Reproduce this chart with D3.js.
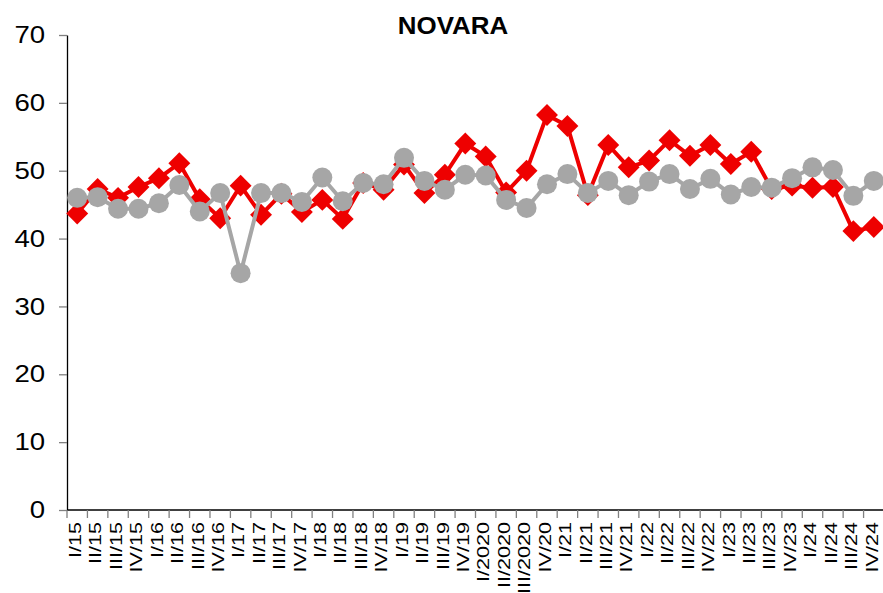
<!DOCTYPE html>
<html lang="it">
<head>
    <title>NOVARA</title>
    <meta charset="utf-8">
    <!-- D3 -->
    <script src="https://d3js.org/d3.v7.min.js"></script>
<style>
body { margin: 0; background: #fff; }
text { font-family: "Liberation Sans", Arial, sans-serif; }
</style>
</head>
<body>
<div id="novara_graph"></div>
<script>
// quarters on the x axis
var quarters = ["I/15", "II/15", "III/15", "IV/15", "I/16", "II/16", "III/16", "IV/16",
  "I/17", "II/17", "III/17", "IV/17", "I/18", "II/18", "III/18", "IV/18",
  "I/19", "II/19", "III/19", "IV/19", "I/2020", "II/2020", "III/2020", "IV/20",
  "I/21", "II/21", "III/21", "IV/21", "I/22", "II/22", "III/22", "IV/22",
  "I/23", "II/23", "III/23", "IV/23", "I/24", "II/24", "III/24", "IV/24"];

// red series (diamonds)
var redValues = [43.7, 47.3, 46.0, 47.6, 48.9, 51.1, 45.8, 43.0, 47.8, 43.5,
  46.6, 43.9, 45.7, 42.9, 48.2, 47.2, 50.9, 46.7, 49.4, 54.0,
  52.1, 46.8, 50.0, 58.2, 56.6, 46.4, 53.8, 50.5, 51.5, 54.5,
  52.2, 53.8, 51.0, 52.8, 47.3, 47.8, 47.5, 47.6, 41.1, 41.7];

// grey series (circles)
var greyValues = [46.0, 46.1, 44.4, 44.4, 45.2, 47.9, 44.0, 46.7, 34.9, 46.7,
  46.7, 45.4, 49.0, 45.5, 48.2, 48.0, 51.9, 48.5, 47.2, 49.4,
  49.3, 45.7, 44.5, 48.0, 49.5, 46.7, 48.5, 46.4, 48.4, 49.5,
  47.3, 48.8, 46.5, 47.6, 47.5, 48.9, 50.5, 50.1, 46.3, 48.5];

var yTicks = [0, 10, 20, 30, 40, 50, 60, 70];

// set the dimensions and margins of the graph
var margin = {top: 35, right: 0, bottom: 83, left: 67},
    width = 817,
    height = 475;

var svg = d3.select("#novara_graph")
  .append("svg")
  .attr("width", 883)
  .attr("height", 593)
  .append("g")
  .attr("transform", "translate(" + margin.left + "," + margin.top + ")");

var x = d3.scaleBand()
  .domain(quarters)
  .range([0, width]);

var y = d3.scaleLinear()
  .domain([0, 70])
  .range([height, 0]);

// title
svg.append("text")
  .attr("transform", "translate(386,-1) scale(1.08,1)")
  .attr("text-anchor", "middle")
  .style("font-size", "24px")
  .style("font-weight", "bold")
  .text("NOVARA");

// Y axis
var yAxis = svg.append("g")
  .call(d3.axisLeft(y).tickValues(yTicks).tickSize(8).tickSizeOuter(0).tickPadding(14));
yAxis.select(".domain").attr("stroke", "#000").attr("stroke-width", 1.3);
yAxis.selectAll(".tick line").attr("stroke", "#808080").attr("stroke-width", 1.3);
yAxis.selectAll(".tick text")
  .attr("fill", "#000")
  .style("font-size", "24px")
  .attr("transform", "translate(-23,0) scale(1.15,1) translate(23,0)");

// X axis: line, ticks between categories, rotated labels
var xAxis = svg.append("g")
  .attr("transform", "translate(0," + height + ")");
xAxis.append("line")
  .attr("x1", 0).attr("x2", width)
  .attr("stroke", "#000")
  .attr("stroke-width", 1.3);
xAxis.selectAll("tickMarks")
  .data(d3.range(quarters.length + 1))
  .enter()
  .append("line")
    .attr("x1", function(i) { return i * x.step(); })
    .attr("x2", function(i) { return i * x.step(); })
    .attr("y1", 0)
    .attr("y2", 8)
    .attr("stroke", "#808080")
    .attr("stroke-width", 1.3);
xAxis.selectAll("tickLabels")
  .data(quarters)
  .enter()
  .append("g")
    .attr("transform", function(d) { return "translate(" + (x(d) + x.bandwidth() / 2 - 2) + ",12) rotate(-90)"; })
  .append("text")
    .attr("transform", "scale(1.35,1)")
    .attr("text-anchor", "end")
    .attr("dy", "0.36em")
    .style("font-size", "16px")
    .text(function(d) { return d; });

var cx = function(d, i) { return x(quarters[i]) + x.bandwidth() / 2; };

var line = d3.line()
  .x(function(d, i) { return cx(d, i); })
  .y(function(d) { return y(d); });

// red line with diamonds
svg.append("path")
  .datum(redValues)
  .attr("d", line)
  .attr("fill", "none")
  .attr("stroke", "#ee0000")
  .attr("stroke-width", 4);

svg.selectAll("redDots")
  .data(redValues)
  .enter()
  .append("path")
    .attr("d", d3.symbol().type(d3.symbolSquare).size(240))
    .attr("transform", function(d, i) { return "translate(" + cx(d, i) + "," + y(d) + ") rotate(45)"; })
    .attr("fill", "#ee0000");

// grey line with circles
svg.append("path")
  .datum(greyValues)
  .attr("d", line)
  .attr("fill", "none")
  .attr("stroke", "#a6a6a6")
  .attr("stroke-width", 4);

svg.selectAll("greyDots")
  .data(greyValues)
  .enter()
  .append("circle")
    .attr("cx", function(d, i) { return cx(d, i); })
    .attr("cy", function(d) { return y(d); })
    .attr("r", 10)
    .attr("fill", "#a6a6a6");
</script>
</body>
</html>
